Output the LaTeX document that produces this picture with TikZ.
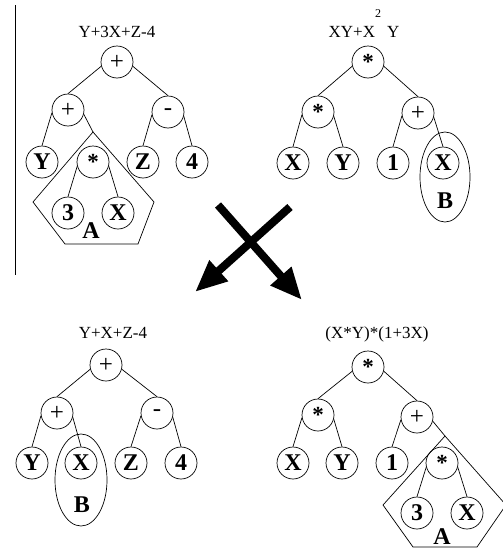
\documentclass[tikz,border=0pt]{standalone}
\usepackage{fontspec}
\setmainfont{Liberation Serif}
\usetikzlibrary{arrows.meta}

\begin{document}
\begin{tikzpicture}[
    x=1pt, y=-1pt,
    leaf/.style={draw, circle, minimum size=32pt, inner sep=0pt, line width=0.7pt, font=\fontsize{24}{24}\selectfont\bfseries},
    op/.style={leaf, font=\fontsize{25}{25}\selectfont},
    mul/.style={leaf, font=\fontsize{23}{23}\selectfont\bfseries},
    expr/.style={anchor=base, font=\fontsize{17}{17}\selectfont},
    tag/.style={font=\fontsize{24}{24}\selectfont\bfseries},
    link/.style={line width=0.7pt},
    grp/.style={draw, line width=0.7pt},
    crossarr/.style={line width=8pt, -{Triangle[length=32pt, width=26pt]}},
  ]
    \useasboundingbox (0,0) rectangle (503,549);

    % Separator
    \draw[line width=0.8pt] (15,5) -- (15,275);

    % Parent 1: Y+3X+Z-4
    \node[expr] (p1expr) at (117,37) {Y+3X+Z-4};
    \node[op] (p1r) at (117,62) {+};
    \node[op] (p1a) at (68,110) {+};
    \node[op] (p1b) at (168,112) {-};
    \node[leaf] (p1y) at (42,162) {Y};
    \node[mul] (p1s) at (93,162) {*};
    \node[leaf] (p1z) at (143,162) {Z};
    \node[leaf] (p1four) at (192,162) {4};
    \node[leaf] (p1three) at (68,213) {3};
    \node[leaf] (p1x) at (118,213) {X};
    \coordinate (p1apex) at (93,132);
    \draw[grp] (p1apex) -- (33,202) -- (65,244) -- (138,244) -- (154,202) -- cycle;
    \node[tag] (p1tag) at (91,231) {A};

    \draw[link] (p1r.195) -- (p1a.north);
    \draw[link] (p1r.-15) -- (p1b.north);
    \draw[link] (p1a.190) -- (p1y.north);
    \draw[link] (p1a.-15) -- (p1apex);
    \draw[link] (p1b.190) -- (p1z.north);
    \draw[link] (p1b.-15) -- (p1four.north);
    \draw[link] (p1s.195) -- (p1three.north);
    \draw[link] (p1s.-15) -- (p1x.north);

    % Parent 2: XY+X^2Y
    \node[expr] (p2expr) at (364,37) {XY+X\raisebox{20pt}{\fontsize{12}{12}\selectfont 2}\hspace{0.35em}Y};
    \node[mul] (p2r) at (368,62) {*};
    \node[mul] (p2a) at (318,112) {*};
    \node[op] (p2b) at (418,113) {+};
    \node[leaf] (p2x) at (293,163) {X};
    \node[leaf] (p2y) at (343,163) {Y};
    \node[leaf] (p2one) at (393,163) {1};
    \node[leaf] (p2xb) at (443,163) {X};
    \draw[grp] (445,177) ellipse [x radius=25pt, y radius=45pt];
    \node[tag] (p2tag) at (445,201) {B};

    \draw[link] (p2r.195) -- (p2a.north);
    \draw[link] (p2r.-15) -- (p2b.north);
    \draw[link] (p2a.190) -- (p2x.north);
    \draw[link] (p2a.-15) -- (p2y.north);
    \draw[link] (p2b.190) -- (p2one.north);
    \draw[link] (p2b.-15) -- (p2xb.north);

    % Crossover arrows
    \coordinate (xl0) at (290,207);
    \coordinate (xl1) at (195,292);
    \coordinate (xr0) at (218,205);
    \coordinate (xr1) at (302,300);
    \draw[crossarr] (xl0) -- (xl1);
    \draw[crossarr] (xr0) -- (xr1);

    % Child 1: Y+X+Z-4
    \node[expr] (c1expr) at (113,338) {Y+X+Z-4};
    \node[op] (c1r) at (106,365) {+};
    \node[op] (c1a) at (57,413) {+};
    \node[op] (c1b) at (157,413) {-};
    \node[leaf] (c1y) at (32,463) {Y};
    \node[leaf] (c1x) at (81,463) {X};
    \node[leaf] (c1z) at (131,463) {Z};
    \node[leaf] (c1four) at (181,463) {4};
    \draw[grp] (81,480) ellipse [x radius=26pt, y radius=46pt];
    \node[tag] (c1tag) at (82,505) {B};

    \draw[link] (c1r.195) -- (c1a.north);
    \draw[link] (c1r.-15) -- (c1b.north);
    \draw[link] (c1a.190) -- (c1y.north);
    \draw[link] (c1a.-15) -- (c1x.north);
    \draw[link] (c1b.190) -- (c1z.north);
    \draw[link] (c1b.-15) -- (c1four.north);

    % Child 2: (X*Y)*(1+3X)
    \node[expr] (c2expr) at (377,338) {(X*Y)*(1+3X)};
    \node[mul] (c2r) at (368,367) {*};
    \node[mul] (c2a) at (318,415) {*};
    \node[op] (c2b) at (417,417) {+};
    \node[leaf] (c2x) at (293,463) {X};
    \node[leaf] (c2y) at (342,463) {Y};
    \node[leaf] (c2one) at (392,463) {1};
    \node[mul] (c2s) at (442,463) {*};
    \node[leaf] (c2three) at (417,513) {3};
    \node[leaf] (c2xb) at (467,513) {X};
    \coordinate (c2apex) at (445,436);
    \draw[grp] (c2apex) -- (383,505) -- (413,547) -- (477,547) -- (506,505) -- cycle;
    \node[tag] (c2tag) at (442,537) {A};

    \draw[link] (c2r.195) -- (c2a.north);
    \draw[link] (c2r.-15) -- (c2b.north);
    \draw[link] (c2a.190) -- (c2x.north);
    \draw[link] (c2a.-15) -- (c2y.north);
    \draw[link] (c2b.190) -- (c2one.north);
    \draw[link] (c2b.-15) -- (c2apex);
    \draw[link] (c2s.195) -- (c2three.north);
    \draw[link] (c2s.-15) -- (c2xb.north);
  \end{tikzpicture}
\end{document}
